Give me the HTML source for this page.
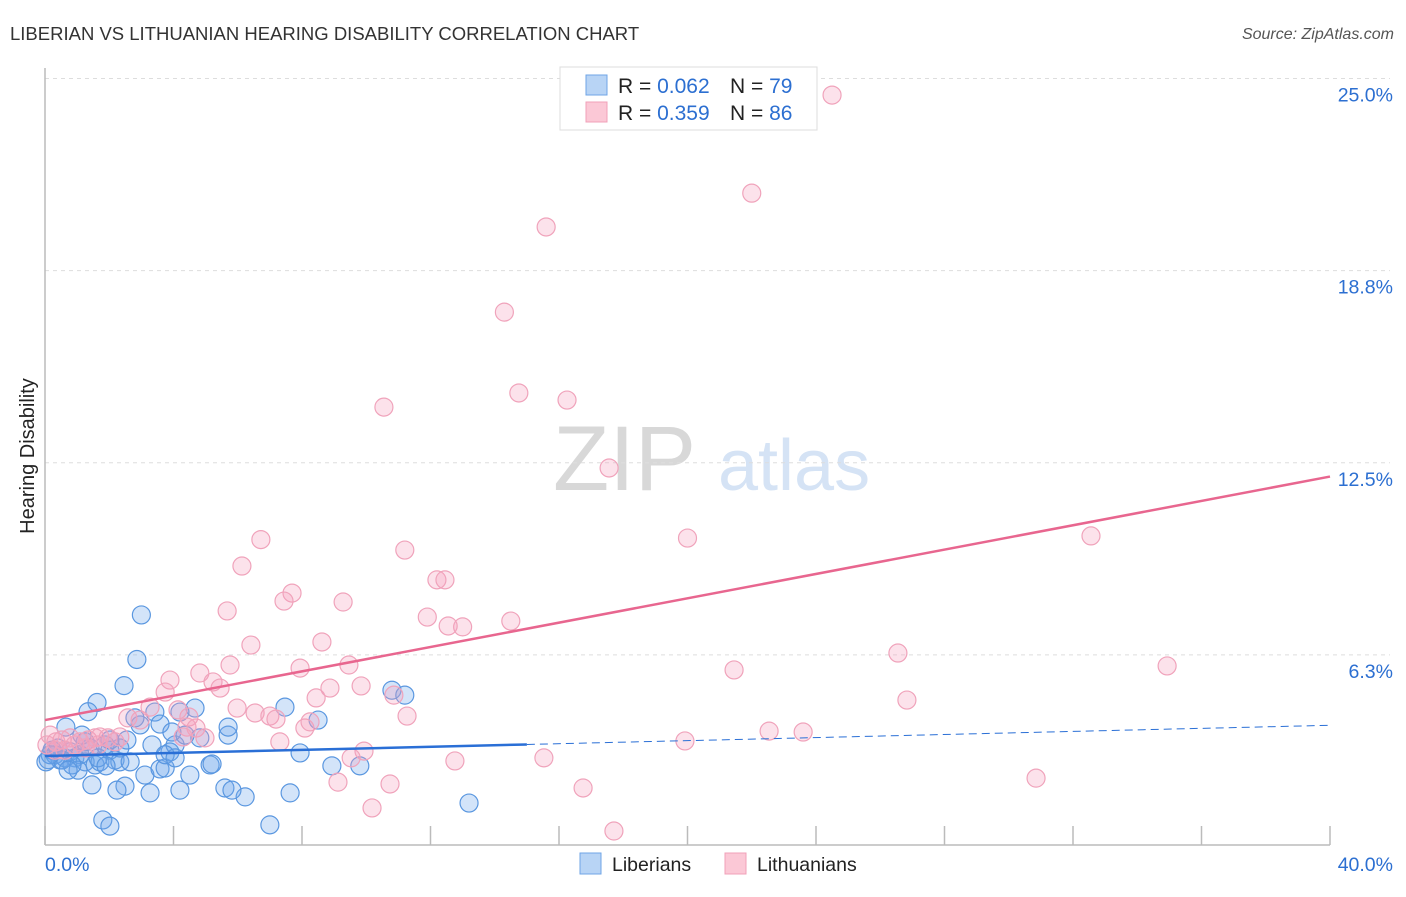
<!DOCTYPE html>
<html><head><meta charset="utf-8"><style>
body{margin:0;background:#fff;font-family:"Liberation Sans",sans-serif}
svg text{font-family:"Liberation Sans",sans-serif}
</style></head><body>
<svg id="chart" width="1406" height="892" xmlns="http://www.w3.org/2000/svg">
<text x="10" y="40" font-size="18.5" fill="#333">LIBERIAN VS LITHUANIAN HEARING DISABILITY CORRELATION CHART</text>
<text x="1394" y="39" font-size="16" fill="#555" font-style="italic" text-anchor="end">Source: ZipAtlas.com</text>
<text x="553" y="490" font-size="92" fill="#d8d8d8" font-family="Liberation Serif">ZIP</text>
<text x="718" y="490" font-size="72" fill="#d5e3f5">atlas</text>
<text transform="translate(34,456) rotate(-90)" font-size="20" fill="#222" text-anchor="middle">Hearing Disability</text>
<g id="grid"></g><g id="pts"></g><g id="trends"></g>
<g>
<rect x="560" y="67" width="257" height="63" fill="#fff" stroke="#ddd"/>
<rect x="586" y="75" width="21" height="20" fill="#b8d4f5" stroke="#6fa4e6"/>
<rect x="586" y="102" width="21" height="20" fill="#fbc8d6" stroke="#f0a0b8"/>
<text x="618" y="93" font-size="21" fill="#222">R = <tspan fill="#2c6fd1">0.062</tspan></text>
<text x="730" y="93" font-size="21" fill="#222">N = <tspan fill="#2c6fd1">79</tspan></text>
<text x="618" y="120" font-size="21" fill="#222">R = <tspan fill="#2c6fd1"> 0.359</tspan></text>
<text x="730" y="120" font-size="21" fill="#222">N = <tspan fill="#2c6fd1">86</tspan></text>
</g>
<g>
<rect x="580" y="853" width="21" height="21" fill="#b8d4f5" stroke="#6fa4e6"/>
<text x="612" y="871" font-size="19.5" fill="#222">Liberians</text>
<rect x="725" y="853" width="21" height="21" fill="#fbc8d6" stroke="#f0a0b8"/>
<text x="757" y="871" font-size="19.5" fill="#222">Lithuanians</text>
</g>
</svg>
<script>
const xTicks=[0,4,8,12,16,20,24,28,32,36,40];
const yTicks=[6.25,12.5,18.75,25];
const yTickLabels=["6.3%","12.5%","18.8%","25.0%"];
const xEndLabels=["0.0%","40.0%"];
const libX=[3.0,2.86,2.46,1.62,1.34,0.65,0.1,0.22,0.31,0.47,0.62,0.78,0.93,1.09,1.25,1.4,1.56,1.71,1.87,2.02,2.18,2.33,2.65,2.96,3.11,3.27,3.58,3.74,3.89,4.05,4.2,4.51,4.67,4.82,5.14,5.6,5.7,5.7,6.23,5.2,7.47,7.63,7.94,8.5,8.93,10.8,11.2,9.8,13.2,7.0,1.8,2.02,1.46,2.49,3.42,3.58,3.95,4.2,3.33,2.33,2.55,2.02,1.03,0.84,0.53,0.16,1.25,1.65,1.9,2.24,2.8,4.36,3.74,5.82,4.05,0.03,0.4,0.72,1.15];
const libY=[7.55,6.1,5.25,4.7,4.4,3.9,2.84,3.15,3.0,2.83,2.9,3.1,2.9,3.0,2.77,3.22,2.67,2.77,3.32,3.15,2.83,2.77,2.77,3.97,2.34,1.76,2.54,2.57,3.09,3.32,1.85,2.34,4.52,3.55,2.67,1.92,3.64,3.9,1.63,2.7,4.55,1.76,3.06,4.13,2.64,5.1,4.94,2.64,1.43,0.72,0.88,0.68,2.02,1.98,4.39,4.0,3.74,4.39,3.32,3.22,3.48,3.48,2.5,2.67,2.83,3.0,3.42,2.9,2.64,1.85,4.2,3.64,3.0,1.85,2.9,2.77,3.22,2.5,3.64];
const litX=[24.5,22.0,15.6,14.3,14.75,16.25,10.55,17.56,20.0,32.56,6.72,11.2,6.13,12.2,12.45,7.69,7.44,9.28,5.67,14.5,11.9,13.0,12.55,8.62,6.41,26.55,21.45,34.93,5.76,4.82,3.89,7.94,9.46,5.23,8.87,9.84,3.74,5.45,8.44,26.83,10.86,3.27,4.14,5.98,6.54,7.0,7.19,4.48,11.27,2.58,2.96,4.42,4.7,8.09,8.25,4.3,4.98,7.31,22.54,23.6,19.92,9.93,9.53,12.76,15.53,9.12,10.74,16.75,30.85,10.18,17.71,0.16,0.34,0.53,0.78,0.93,1.09,1.34,1.56,1.71,1.96,2.18,2.33,0.06,0.31,0.62,1.25,1.65];
const litY=[24.46,21.27,20.17,17.4,14.77,14.54,14.31,12.33,10.05,10.12,10.0,9.66,9.14,8.69,8.69,8.26,8.0,7.97,7.68,7.35,7.48,7.16,7.19,6.67,6.57,6.31,5.76,5.89,5.92,5.66,5.43,5.82,5.92,5.37,5.17,5.24,5.04,5.17,4.85,4.78,4.94,4.55,4.46,4.52,4.36,4.26,4.16,4.23,4.26,4.2,4.13,3.9,3.87,3.87,4.07,3.58,3.55,3.42,3.77,3.74,3.45,3.12,2.9,2.8,2.9,2.11,2.05,1.92,2.24,1.27,0.52,3.64,3.42,3.48,3.55,3.32,3.42,3.48,3.55,3.58,3.55,3.42,3.58,3.32,3.15,3.15,3.22,3.32];
const libTrend=[2.96,0.025];
const litTrend=[4.13,0.198];
const libSolidEnd=15;
const NS="http://www.w3.org/2000/svg";
const X0=45,X1=1330,XMAX=40,Y0=847,YPER=30.74;
function sx(v){return X0+v*(X1-X0)/XMAX;}
function sy(v){return Y0-v*YPER;}
function mk(tag,attrs,parent){const e=document.createElementNS(NS,tag);for(const k in attrs)e.setAttribute(k,attrs[k]);parent.appendChild(e);return e;}
const grid=document.getElementById('grid');
yTicks.forEach((t,i)=>{
  const l=mk('line',{x1:X0,x2:X1+60,y1:sy(t),y2:sy(t),stroke:'#ddd','stroke-dasharray':'4,4'},grid);
  
  
  const tx=mk('text',{x:1393,y:sy(t)+23,'font-size':19.5,fill:'#2c6fd1','text-anchor':'end'},grid);
  tx.textContent=yTickLabels[i];
  
  
});
const ya=mk('line',{x1:X0,x2:X0,y1:68,y2:845,stroke:'#bbb','stroke-width':1.5},grid);


const xa=mk('line',{x1:X0,x2:X1,y1:845,y2:845,stroke:'#bbb','stroke-width':1.5},grid);


xTicks.forEach(t=>{
  const l=mk('line',{x1:sx(t),x2:sx(t),y1:826,y2:845,stroke:'#bbb','stroke-width':1.5},grid);
  
  
});
[[0,'start',45],[40,'end',1393]].forEach((d,i)=>{
  const tx=mk('text',{x:d[2],y:871,'font-size':19.5,fill:'#2c6fd1','text-anchor':d[1]},grid);
  tx.textContent=xEndLabels[i];
  
  
});
const pts=document.getElementById('pts');
libX.forEach((x,i)=>{
  const c=mk('circle',{cx:sx(x),cy:sy(libY[i]),r:9,fill:'rgba(110,165,235,0.3)',stroke:'#5a97e0','stroke-width':1.2},pts);
  
  
});
litX.forEach((x,i)=>{
  const c=mk('circle',{cx:sx(x),cy:sy(litY[i]),r:9,fill:'rgba(245,160,190,0.3)',stroke:'#f0a3bb','stroke-width':1.2},pts);
  
  
});
const tr=document.getElementById('trends');
const f=(t,x)=>t[0]+t[1]*x;
const l1=mk('line',{x1:sx(0),y1:sy(f(libTrend,0)),x2:sx(libSolidEnd),y2:sy(f(libTrend,libSolidEnd)),stroke:'#2a6fd6','stroke-width':2.5},tr);


const l2=mk('line',{x1:sx(libSolidEnd),y1:sy(f(libTrend,libSolidEnd)),x2:sx(40),y2:sy(f(libTrend,40)),stroke:'#2a6fd6','stroke-width':1,'stroke-dasharray':'8,5'},tr);


const l3=mk('line',{x1:sx(0),y1:sy(f(litTrend,0)),x2:sx(40),y2:sy(f(litTrend,40)),stroke:'#e8668f','stroke-width':2.5},tr);


</script>
</body></html>
